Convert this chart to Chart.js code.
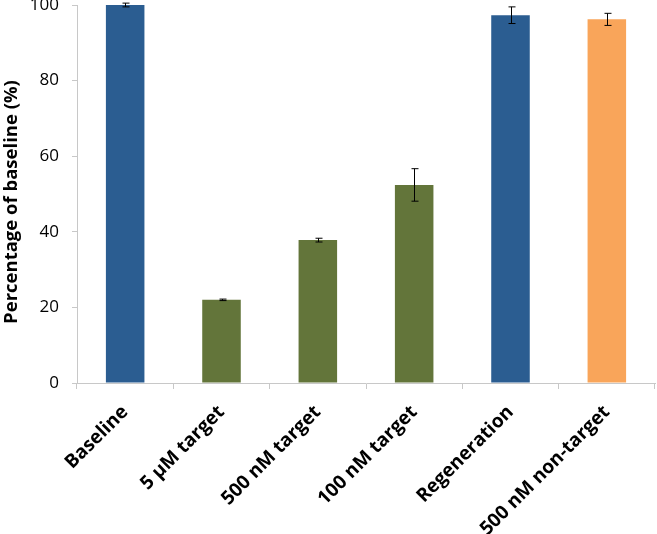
<!DOCTYPE html>
<html><head><meta charset="utf-8">
<script src="https://cdn.jsdelivr.net/npm/chart.js@4/dist/chart.umd.min.js"></script>
<style>html,body{margin:0;padding:0;background:#fff}#wrap{width:657px;height:534px}</style>
</head><body><div id="wrap"><canvas id="c" width="657" height="534"></canvas></div>
<script>
const categories = ["Baseline", "5 \u00b5M target", "500 nM target", "100 nM target", "Regeneration", "500 nM non-target"];
const values = [100, 22, 37.8, 52.4, 97.3, 96.2];
const errors = [0.5, 0.2, 0.5, 4.3, 2.2, 1.6];
const colors = ["#2b5d91", "#63753a", "#63753a", "#63753a", "#2b5d91", "#f9a55a"];
const yTicks = [0, 20, 40, 60, 80, 100];
const yTitle = "Percentage of baseline (%)";

const errorBarPlugin = {
  id: 'errbars',
  afterDatasetsDraw(chart) {
    const ctx = chart.ctx;
    const meta = chart.getDatasetMeta(0);
    const ys = chart.scales.y;
    ctx.save();
    ctx.strokeStyle = '#000';
    ctx.lineWidth = 1;
    meta.data.forEach((bar, i) => {
      const x = Math.round(bar.x) + 0.5;
      const top = ys.getPixelForValue(values[i] + errors[i]);
      const bot = ys.getPixelForValue(values[i] - errors[i]);
      ctx.beginPath();
      ctx.moveTo(x, top); ctx.lineTo(x, bot);
      ctx.moveTo(x - 3, top); ctx.lineTo(x + 4, top);
      ctx.moveTo(x - 3, bot); ctx.lineTo(x + 4, bot);
      ctx.stroke();
    });
    ctx.restore();
  }
};

const yTitlePlugin = {
  id: 'ytitle',
  afterDraw(chart) {
    const ctx = chart.ctx;
    const a = chart.chartArea;
    ctx.save();
    ctx.translate(12, (a.top + a.bottom) / 2 + 8);
    ctx.rotate(-Math.PI / 2);
    ctx.textAlign = 'center';
    ctx.textBaseline = 'middle';
    ctx.fillStyle = '#000';
    ctx.font = 'bold 18.5px "Open Sans", "Liberation Sans", sans-serif';
    ctx.fillText(yTitle, 0, 0);
    ctx.restore();
  }
};

new Chart(document.getElementById('c'), {
  type: 'bar',
  data: {
    labels: categories,
    datasets: [{
      data: values,
      backgroundColor: colors,
      borderWidth: 0,
      barPercentage: 0.4,
      categoryPercentage: 1.0
    }]
  },
  options: {
    responsive: false,
    animation: false,
    layout: { padding: { top: 5, right: 2, left: 0, bottom: 0 } },
    plugins: { legend: { display: false }, tooltip: { enabled: false } },
    scales: {
      x: {
        grid: { display: true, drawOnChartArea: false, offset: true, color: '#c8c8c8', tickLength: 6 },
        border: { color: '#c8c8c8' },
        ticks: {
          maxRotation: 45, minRotation: 45, color: '#000', padding: 12,
          font: { family: 'Open Sans, Liberation Sans, sans-serif', size: 19, weight: 'bold' }
        },
        afterFit(scale) { scale.height = 151; scale.paddingLeft = 0; scale.paddingRight = 0; }
      },
      y: {
        min: 0, max: 100,
        afterBuildTicks(scale) { scale.ticks = yTicks.map(v => ({ value: v })); },
        grid: { display: true, drawOnChartArea: false, color: '#c8c8c8', tickLength: 5 },
        border: { color: '#c8c8c8' },
        ticks: {
          color: '#000', padding: 13,
          font: { family: 'Open Sans, Liberation Sans, sans-serif', size: 17 }
        },
        title: { display: false },
        afterFit(scale) { scale.width = 77; scale.paddingTop = 0; scale.paddingBottom = 0; }
      }
    }
  },
  plugins: [errorBarPlugin, yTitlePlugin]
});
</script></body></html>
